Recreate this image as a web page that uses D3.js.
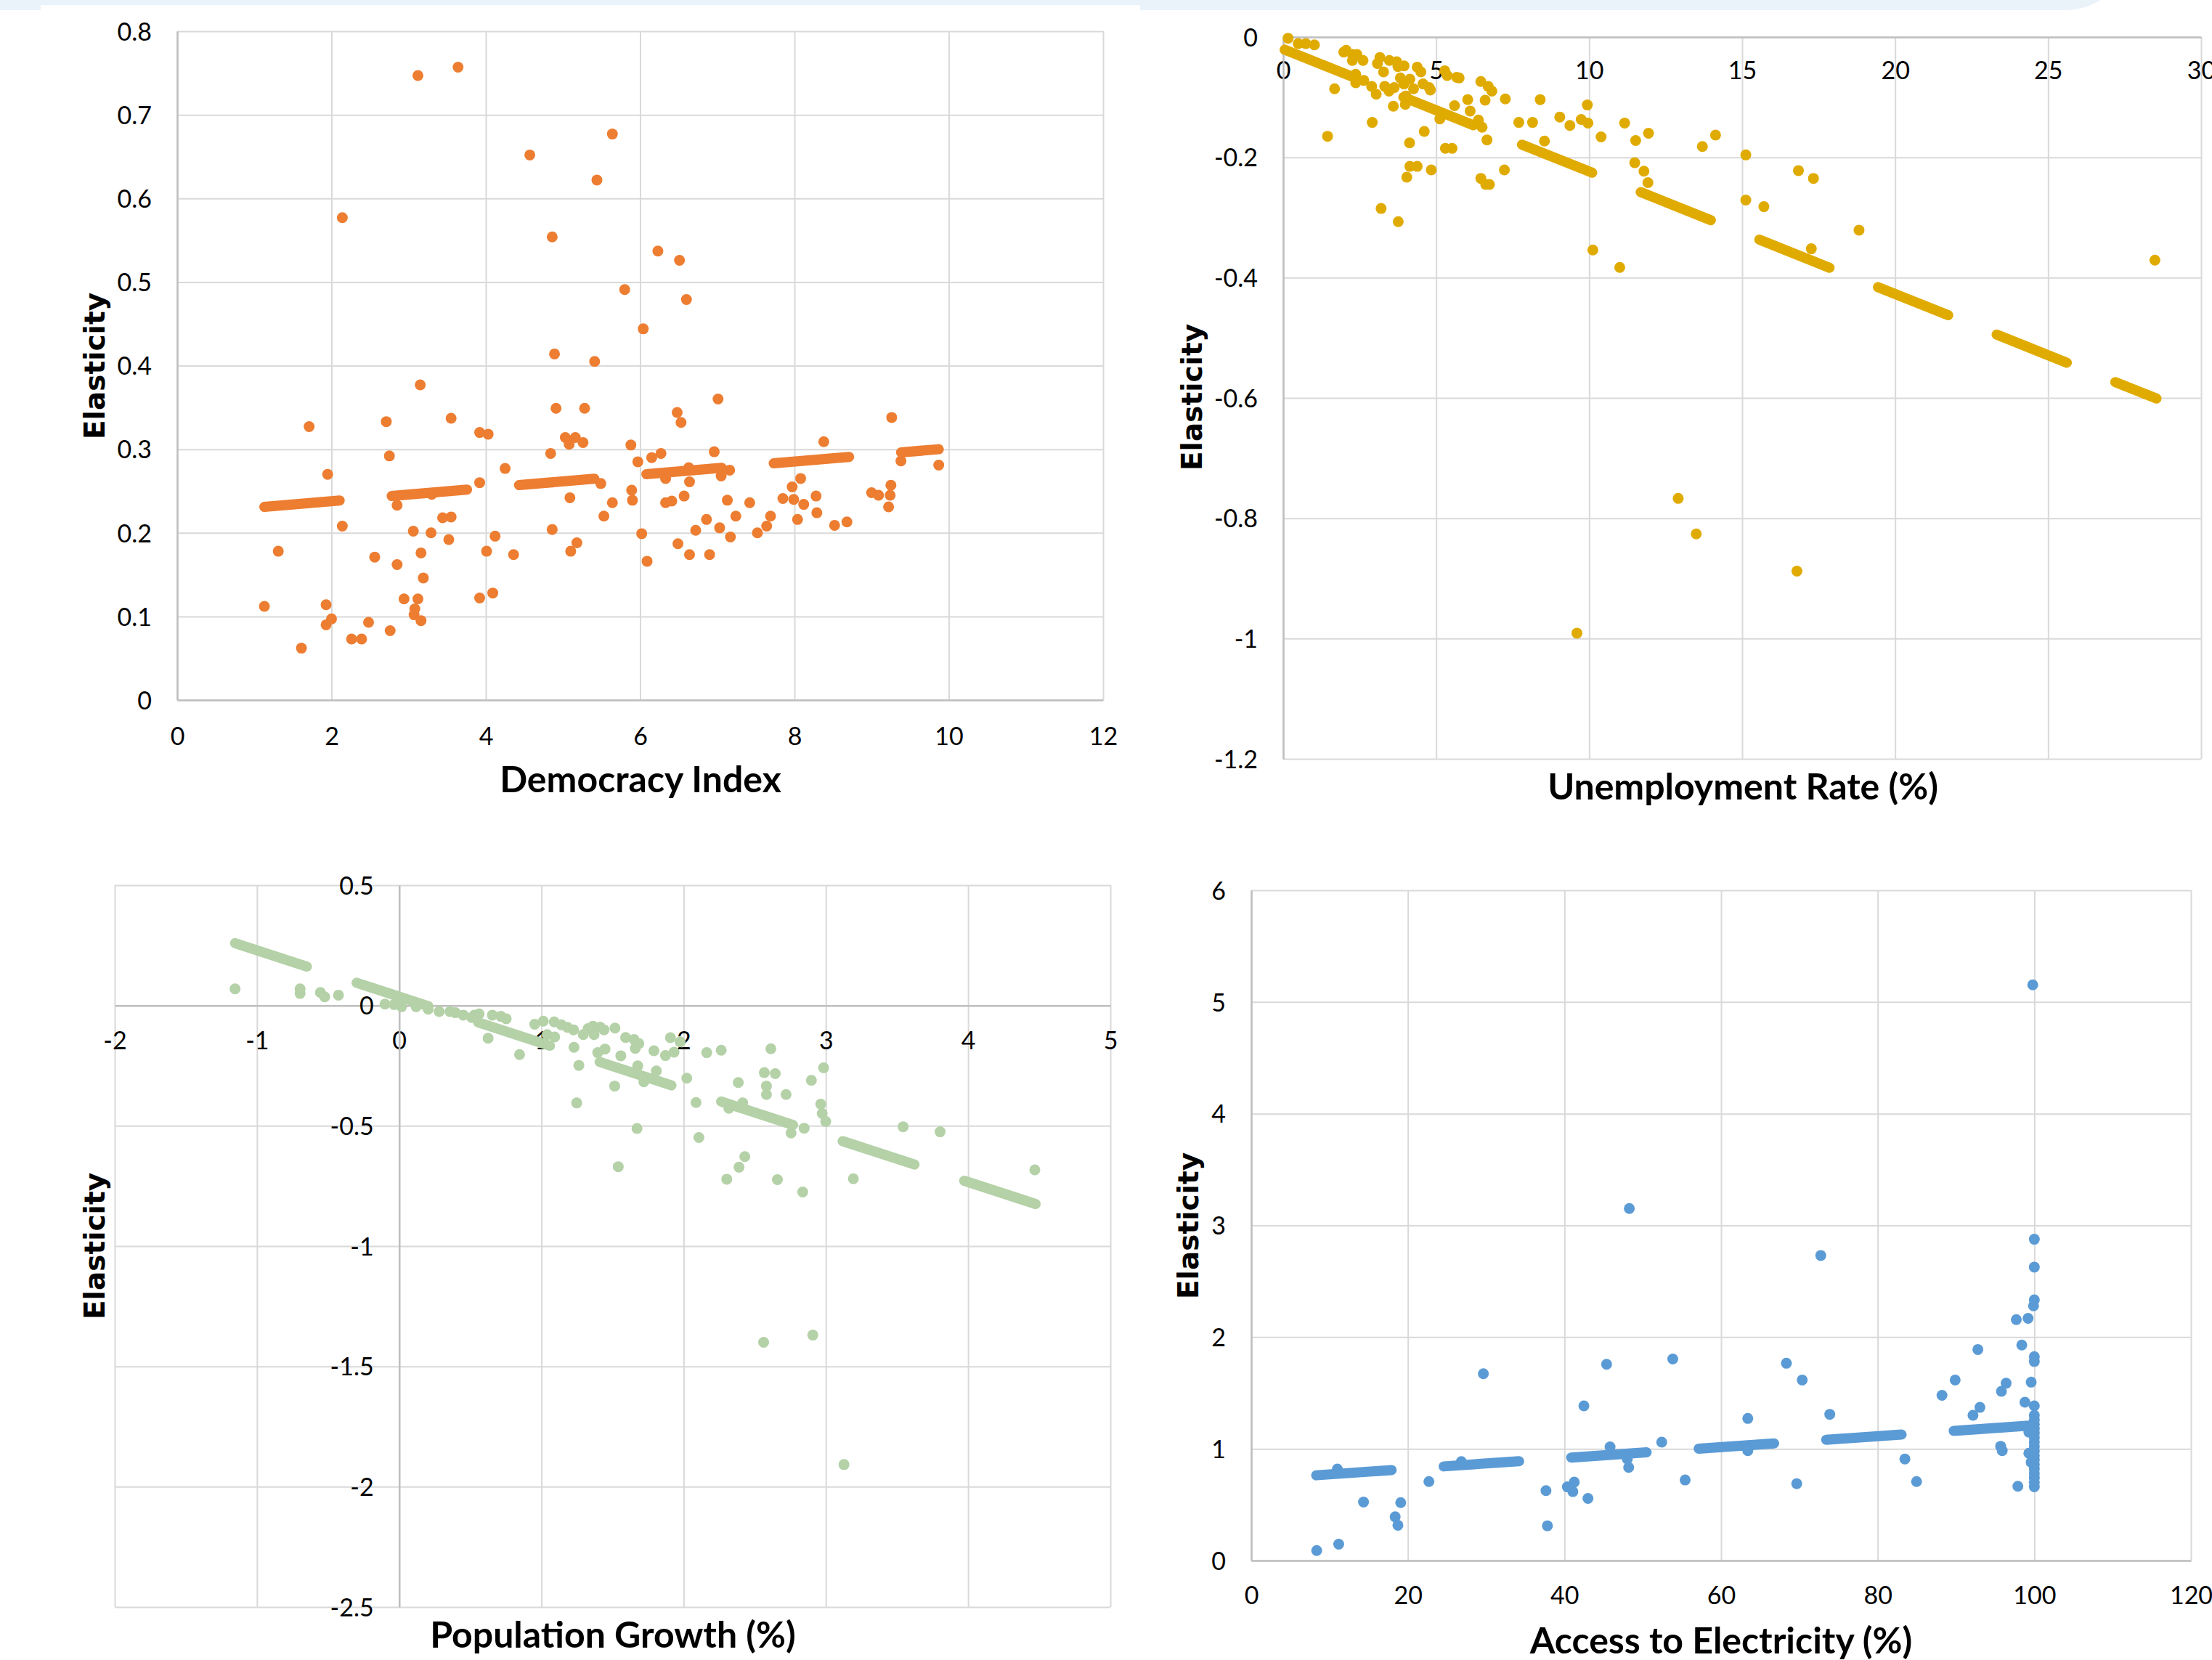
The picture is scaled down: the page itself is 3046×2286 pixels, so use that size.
<!DOCTYPE html>
<html>
<head>
<meta charset="utf-8">
<script src="https://cdn.jsdelivr.net/npm/d3@7"></script>
<style>
  body { margin: 0; background: #fff; }
  svg { display: block; }
</style>
</head>
<body>
<div id="chart"></div>
<script>
var W = 3046, H = 2286;

// Democracy Index vs elasticity
var democracyPoints = [[1.13,0.112],[1.31,0.178],[1.61,0.062],[1.71,0.327],[1.93,0.114],[1.93,0.090],[1.95,0.270],[2.00,0.097],[2.14,0.577],[2.14,0.208],[2.26,0.073],[2.39,0.073],[2.48,0.093],[2.56,0.171],[2.71,0.333],[2.75,0.292],[2.76,0.083],[2.85,0.233],[2.85,0.162],[2.94,0.121],[3.06,0.202],[3.07,0.102],[3.08,0.109],[3.12,0.747],[3.12,0.121],[3.15,0.377],[3.16,0.176],[3.16,0.095],[3.19,0.146],[3.29,0.200],[3.30,0.246],[3.44,0.218],[3.52,0.192],[3.55,0.219],[3.55,0.337],[3.64,0.757],[3.92,0.320],[3.92,0.260],[3.92,0.122],[4.01,0.178],[4.03,0.318],[4.09,0.128],[4.12,0.196],[4.25,0.277],[4.36,0.174],[4.57,0.652],[4.84,0.295],[4.86,0.554],[4.86,0.204],[4.89,0.414],[4.91,0.349],[5.03,0.314],[5.08,0.306],[5.09,0.242],[5.10,0.178],[5.16,0.314],[5.18,0.188],[5.26,0.308],[5.28,0.349],[5.41,0.405],[5.44,0.622],[5.49,0.259],[5.53,0.220],[5.64,0.236],[5.64,0.677],[5.80,0.491],[5.88,0.305],[5.89,0.251],[5.90,0.239],[5.97,0.285],[6.02,0.199],[6.04,0.444],[6.09,0.166],[6.15,0.290],[6.23,0.537],[6.27,0.295],[6.33,0.265],[6.33,0.236],[6.41,0.238],[6.48,0.344],[6.49,0.187],[6.51,0.526],[6.53,0.332],[6.57,0.244],[6.60,0.479],[6.63,0.278],[6.64,0.174],[6.64,0.261],[6.72,0.203],[6.86,0.216],[6.90,0.174],[6.96,0.297],[7.01,0.360],[7.03,0.206],[7.05,0.268],[7.13,0.239],[7.16,0.275],[7.17,0.195],[7.24,0.220],[7.42,0.236],[7.52,0.200],[7.64,0.208],[7.69,0.220],[7.85,0.241],[7.97,0.255],[7.99,0.240],[8.04,0.216],[8.08,0.265],[8.12,0.234],[8.28,0.244],[8.29,0.224],[8.38,0.309],[8.52,0.209],[8.68,0.213],[9.00,0.248],[9.09,0.245],[9.22,0.231],[9.24,0.245],[9.25,0.257],[9.26,0.338],[9.38,0.286],[9.87,0.281]];
var democracyTrend = [[1.13,0.231],[9.87,0.300]];
var democracyXTicks = [0,2,4,6,8,10,12];
var democracyYTicks = [0,0.1,0.2,0.3,0.4,0.5,0.6,0.7,0.8];

// Unemployment rate vs elasticity
var unemploymentPoints = [[0.16,-0.002],[0.49,-0.011],[0.74,-0.011],[1.02,-0.013],[1.45,-0.165],[1.68,-0.086],[1.98,-0.025],[2.06,-0.022],[2.26,-0.029],[2.41,-0.029],[2.26,-0.039],[2.61,-0.039],[2.37,-0.062],[2.37,-0.076],[2.63,-0.072],[2.89,-0.082],[3.04,-0.095],[2.91,-0.142],[3.16,-0.034],[3.08,-0.044],[3.28,-0.058],[3.32,-0.082],[3.46,-0.090],[3.47,-0.039],[3.60,-0.115],[3.71,-0.041],[3.75,-0.049],[3.63,-0.084],[3.83,-0.068],[3.95,-0.048],[3.95,-0.078],[3.99,-0.112],[4.01,-0.098],[4.14,-0.070],[4.26,-0.086],[4.13,-0.176],[4.38,-0.050],[4.50,-0.058],[4.57,-0.078],[4.61,-0.157],[4.77,-0.084],[4.81,-0.088],[4.14,-0.215],[4.38,-0.215],[4.04,-0.233],[4.84,-0.221],[3.20,-0.285],[3.76,-0.307],[5.28,-0.056],[5.36,-0.064],[5.67,-0.067],[5.75,-0.068],[5.12,-0.136],[5.60,-0.114],[5.52,-0.185],[5.30,-0.185],[6.03,-0.104],[6.11,-0.123],[6.38,-0.138],[6.46,-0.074],[6.70,-0.082],[6.82,-0.090],[6.60,-0.105],[6.50,-0.150],[6.66,-0.171],[6.46,-0.235],[6.62,-0.245],[6.74,-0.245],[7.26,-0.103],[7.23,-0.221],[7.70,-0.142],[8.15,-0.142],[8.40,-0.104],[8.54,-0.173],[9.04,-0.133],[9.37,-0.147],[9.60,-0.991],[9.74,-0.137],[9.94,-0.113],[9.96,-0.143],[10.12,-0.354],[10.39,-0.166],[11.00,-0.383],[11.16,-0.143],[11.49,-0.209],[11.52,-0.172],[11.79,-0.223],[11.92,-0.242],[11.94,-0.160],[12.91,-0.767],[13.50,-0.826],[13.70,-0.182],[14.13,-0.163],[15.12,-0.196],[15.12,-0.271],[15.71,-0.282],[16.79,-0.888],[16.84,-0.222],[17.26,-0.352],[17.33,-0.235],[18.82,-0.321],[28.49,-0.371]];
var unemploymentTrend = [[0.05,-0.021],[28.54,-0.601]];
var unemploymentXTicks = [0,5,10,15,20,25,30];
var unemploymentYTicks = [0,-0.2,-0.4,-0.6,-0.8,-1,-1.2];

// Population growth vs elasticity
var populationPoints = [[-1.154,0.069],[-0.697,0.069],[-0.697,0.05],[-0.554,0.054],[-0.524,0.036],[-0.427,0.043],[-0.10,0.006],[-0.036,0.004],[0.017,-0.005],[0.119,-0.005],[0.204,-0.015],[0.281,-0.025],[0.357,-0.025],[0.395,-0.030],[0.451,-0.040],[0.51,-0.050],[0.562,-0.035],[0.528,-0.040],[0.655,-0.040],[0.715,-0.045],[0.752,-0.055],[0.625,-0.136],[0.846,-0.204],[0.953,-0.078],[1.013,-0.065],[1.04,-0.121],[1.093,-0.131],[1.09,-0.068],[1.14,-0.080],[1.183,-0.091],[1.226,-0.101],[1.229,-0.174],[1.263,-0.249],[1.248,-0.405],[1.294,-0.121],[1.328,-0.096],[1.362,-0.086],[1.37,-0.121],[1.413,-0.090],[1.44,-0.101],[1.396,-0.196],[1.447,-0.181],[1.517,-0.094],[1.558,-0.209],[1.515,-0.335],[1.54,-0.670],[1.592,-0.133],[1.651,-0.141],[1.685,-0.158],[1.66,-0.178],[1.677,-0.251],[1.72,-0.317],[1.808,-0.272],[1.791,-0.188],[1.872,-0.208],[1.907,-0.134],[1.932,-0.194],[1.975,-0.151],[2.022,-0.302],[2.087,-0.403],[2.107,-0.549],[1.672,-0.511],[2.162,-0.196],[2.264,-0.186],[2.303,-0.722],[2.318,-0.427],[2.384,-0.320],[2.389,-0.672],[2.415,-0.405],[2.43,-0.628],[2.562,-1.400],[2.567,-0.279],[2.582,-0.335],[2.582,-0.370],[2.613,-0.180],[2.644,-0.283],[2.659,-0.724],[2.72,-0.370],[2.755,-0.530],[2.837,-0.775],[2.847,-0.510],[2.898,-0.311],[2.908,-1.370],[2.964,-0.410],[2.974,-0.449],[2.984,-0.259],[2.999,-0.482],[3.127,-1.908],[3.193,-0.720],[3.543,-0.504],[3.803,-0.525],[4.469,-0.683]];
var populationTrend = [[-1.154,0.259],[4.474,-0.825]];
var populationXTicks = [-2,-1,0,1,2,3,4,5];
var populationYTicks = [0.5,0,-0.5,-1,-1.5,-2,-2.5];

// Access to electricity vs elasticity
var electricityPoints = [[8.36,0.089],[11.0,0.819],[11.17,0.146],[14.34,0.523],[18.38,0.391],[18.73,0.316],[19.09,0.518],[22.69,0.707],[26.83,0.886],[29.64,1.672],[37.64,0.626],[37.82,0.311],[40.37,0.659],[41.07,0.617],[41.25,0.702],[42.48,1.385],[43.0,0.556],[45.38,1.757],[45.82,1.017],[48.02,0.909],[48.2,0.834],[48.28,3.151],[52.42,1.060],[53.83,1.804],[55.41,0.721],[63.41,1.272],[63.41,0.984],[68.34,1.766],[69.66,0.688],[70.36,1.616],[72.73,2.731],[73.88,1.309],[83.47,0.909],[84.96,0.707],[88.21,1.479],[89.89,1.616],[92.17,1.300],[92.79,1.889],[93.05,1.371],[95.7,1.023],[95.9,0.984],[96.4,1.587],[95.8,1.515],[97.7,2.157],[97.9,0.665],[98.4,1.929],[98.8,1.417],[99.2,2.168],[99.3,1.15],[99.3,0.96],[99.6,1.597],[99.6,0.88],[99.9,2.28],[99.8,5.153],[100,2.876],[100,2.627],[100,2.334],[100,1.825],[100,1.782],[100,1.385],[100,1.30],[100,1.26],[100,1.22],[100,1.18],[100,1.14],[100,1.10],[100,1.06],[100,1.02],[100,0.98],[100,0.94],[100,0.90],[100,0.86],[100,0.82],[100,0.78],[100,0.74],[100,0.70],[100,0.66]];
var electricityTrend = [[8.3,0.763],[100,1.211]];
var electricityXTicks = [0,20,40,60,80,100,120];
var electricityYTicks = [0,1,2,3,4,5,6];

var panels = [
  { points: democracyPoints, trend: democracyTrend, xTicks: democracyXTicks, yTicks: democracyYTicks,
    color: "#ed7d31", left: 244, right: 1519, top: 43, bottom: 964, crossX: 0, crossY: 0, xLabelGap: 50,
    title: "Democracy Index", titleX: 882, titleY: 1091, yTitleX: 144, yTitleY: 504 },
  { points: unemploymentPoints, trend: unemploymentTrend, xTicks: unemploymentXTicks, yTicks: unemploymentYTicks,
    color: "#e0ab00", left: 1767, right: 3031, top: 51, bottom: 1045, crossX: 0, crossY: 0, xLabelGap: 46,
    title: "Unemployment Rate (%)", titleX: 2400, titleY: 1101, yTitleX: 1655, yTitleY: 547 },
  { points: populationPoints, trend: populationTrend, xTicks: populationXTicks, yTicks: populationYTicks,
    color: "#b4d1a7", left: 158, right: 1529, top: 1219, bottom: 2213, crossX: 0, crossY: 0, xLabelGap: 48,
    title: "Population Growth (%)", titleX: 844, titleY: 2269, yTitleX: 144, yTitleY: 1716 },
  { points: electricityPoints, trend: electricityTrend, xTicks: electricityXTicks, yTicks: electricityYTicks,
    color: "#5b9bd5", left: 1723, right: 3017, top: 1226, bottom: 2149, crossX: 0, crossY: 0, xLabelGap: 48,
    title: "Access to Electricity (%)", titleX: 2370, titleY: 2277, yTitleX: 1650, yTitleY: 1688 }
];

var tickFont = 'Lato, "Open Sans", sans-serif';
var fmt = function (d) { return String(+d.toFixed(2)); };

var svg = d3.select("#chart").append("svg")
  .attr("width", W).attr("height", H)
  .style("background", "#fff");

// pale band along the top edge
svg.append("path")
  .attr("d", "M0,0 H2892 Q2872,14 2840,14 H1570 V7 H56 V14 H0 Z")
  .attr("fill", "#eaf2fa");

function drawPanel(p) {
  var xExt = d3.extent(p.xTicks), yExt = d3.extent(p.yTicks);
  var x = d3.scaleLinear().domain(xExt).range([p.left, p.right]);
  var y = d3.scaleLinear().domain(yExt).range([p.bottom, p.top]);
  var g = svg.append("g");

  // gridlines
  g.append("g")
    .attr("transform", "translate(0," + p.bottom + ")")
    .call(d3.axisBottom(x).tickValues(p.xTicks).tickSize(-(p.bottom - p.top)).tickFormat(""))
    .call(s => s.select(".domain").remove())
    .selectAll("line").attr("stroke", "#d9d9d9").attr("stroke-width", 2);
  g.append("g")
    .attr("transform", "translate(" + p.left + ",0)")
    .call(d3.axisLeft(y).tickValues(p.yTicks).tickSize(-(p.right - p.left)).tickFormat(""))
    .call(s => s.select(".domain").remove())
    .selectAll("line").attr("stroke", "#d9d9d9").attr("stroke-width", 2);

  var cx = x(p.crossX), cy = y(p.crossY);

  // x axis crossing at y = 0
  var xa = g.append("g")
    .attr("transform", "translate(0," + cy + ")")
    .call(d3.axisBottom(x).tickValues(p.xTicks).tickSize(0).tickSizeOuter(0).tickFormat(fmt));
  xa.select(".domain").attr("stroke", "#bfbfbf").attr("stroke-width", 2.5);
  xa.selectAll("text")
    .attr("y", p.xLabelGap).attr("dy", "0.36em")
    .style("font-family", tickFont).style("font-size", "34px").attr("fill", "#000");

  // y axis crossing at x = 0
  var ya = g.append("g")
    .attr("transform", "translate(" + cx + ",0)")
    .call(d3.axisLeft(y).tickValues(p.yTicks).tickSize(0).tickSizeOuter(0).tickFormat(fmt));
  ya.select(".domain").attr("stroke", "#bfbfbf").attr("stroke-width", 2.5);
  ya.selectAll("text")
    .attr("x", -35).attr("dy", "0.36em")
    .style("font-family", tickFont).style("font-size", "34px").attr("fill", "#000");

  // markers
  g.append("g").selectAll("circle")
    .data(p.points)
    .enter().append("circle")
    .attr("cx", d => x(d[0]))
    .attr("cy", d => y(d[1]))
    .attr("r", 7.5)
    .attr("fill", p.color);

  // linear trendline, long dashes
  g.append("path")
    .datum(p.trend)
    .attr("d", d3.line().x(d => x(d[0])).y(d => y(d[1])))
    .attr("fill", "none")
    .attr("stroke", p.color)
    .attr("stroke-width", 14)
    .attr("stroke-linecap", "round")
    .attr("stroke-dasharray", "104,72");

  // axis titles
  g.append("text")
    .attr("x", p.titleX).attr("y", p.titleY)
    .attr("text-anchor", "middle")
    .style("font-family", tickFont).style("font-weight", "bold").style("font-size", "50px")
    .text(p.title);
  g.append("text")
    .attr("transform", "translate(" + p.yTitleX + "," + p.yTitleY + ") rotate(-90)")
    .attr("text-anchor", "middle")
    .style("font-family", '"DejaVu Sans", sans-serif').style("font-weight", "bold").style("font-size", "39px")
    .text("Elasticity");
}

panels.forEach(drawPanel);
</script>
</body>
</html>
